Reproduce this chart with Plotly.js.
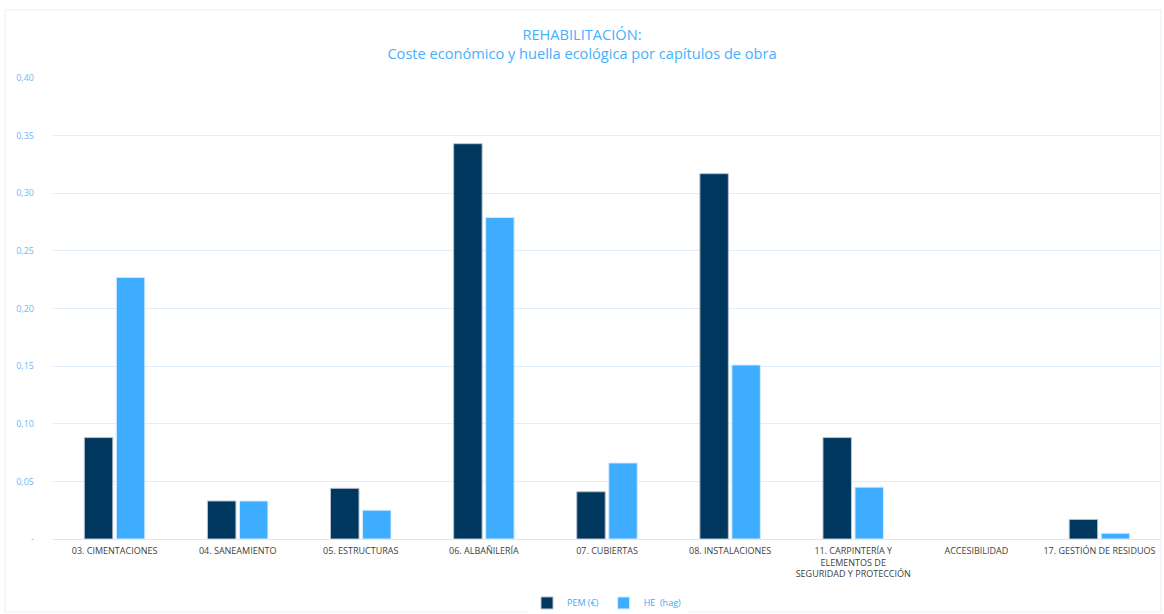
<!DOCTYPE html>
<html>
<head>
<meta charset="utf-8">
<script src="https://cdn.plot.ly/plotly-3.0.1.min.js"></script>
<style>html,body{margin:0;padding:0;background:#fff;}#chart{width:1164px;height:614px;}</style>
</head>
<body>
<div id="chart"></div>
<script>
const categories = [
  "03. CIMENTACIONES",
  "04. SANEAMIENTO",
  "05. ESTRUCTURAS",
  "06. ALBAÑILERÍA",
  "07. CUBIERTAS",
  "08. INSTALACIONES",
  "11. CARPINTERÍA Y<br>ELEMENTOS DE<br>SEGURIDAD Y PROTECCIÓN",
  "ACCESIBILIDAD",
  "17. GESTIÓN DE RESIDUOS"
];
const pemValues = [0.088, 0.033, 0.044, 0.343, 0.041, 0.317, 0.088, 0, 0.017];
const heValues  = [0.227, 0.033, 0.025, 0.279, 0.066, 0.151, 0.045, 0, 0.005];
const seriesNames = ["PEM (€)", "HE  (hag)"];
const yTickVals = [0, 0.05, 0.10, 0.15, 0.20, 0.25, 0.30, 0.35, 0.40];
const yTickText = ["-", "0,05", "0,10", "0,15", "0,20", "0,25", "0,30", "0,35", "0,40"];

const font = "Open Sans, Liberation Sans, sans-serif";
const traces = [
  {type: "bar", name: seriesNames[0], x: categories, y: pemValues,
   marker: {color: "#00375f", line: {color: "#b9c3cf", width: pemValues.map(v => v > 0 ? 1 : 0)}}, hoverinfo: "y"},
  {type: "bar", name: seriesNames[1], x: categories, y: heValues,
   marker: {color: "#3fadff", line: {color: "#d6ebff", width: heValues.map(v => v > 0 ? 1 : 0)}}, hoverinfo: "y"}
];
const layout = {
  width: 1164, height: 614,
  margin: {l: 53, r: 3, t: 78, b: 75},
  paper_bgcolor: "#ffffff", plot_bgcolor: "#ffffff",
  title: {text: "REHABILITACIÓN:<br><span style='line-height:1.5'>Coste económico y huella ecológica por capítulos de obra</span>",
          font: {family: font, size: 14.6, color: "#45b0ff"}, x: 0.5, xanchor: "center", y: 0.935, yanchor: "top"},
  barmode: "group", bargap: 0.48, bargroupgap: 0.11,
  xaxis: {tickfont: {family: font, size: 9, color: "#404040"}, showgrid: false, zeroline: false,
          showline: true, linecolor: "#dbe9f7", linewidth: 1, ticks: "", automargin: false, ticklabelstandoff: 3},
  yaxis: {range: [0, 0.4], tickvals: yTickVals, ticktext: yTickText, tickfont: {family: font, size: 9, color: "#6fb8f5"},
          showgrid: true, gridcolor: "#dfedfb", gridwidth: 1, zeroline: false, ticks: "", ticklen: 0,
          ticklabelstandoff: 18, automargin: false, fixedrange: true},
  legend: {orientation: "h", x: 0.5, xanchor: "center", yref: "container", y: 0.018, yanchor: "middle",
           font: {family: font, size: 9, color: "#3fa6f5"}, itemwidth: 30, traceorder: "normal"},
  shapes: [{type: "rect", xref: "paper", yref: "paper",
            x0: (5 - 53) / 1108, x1: (1161 - 53) / 1108, y0: (539 - 612) / 461, y1: (539 - 10) / 461,
            line: {color: "#e3effb", width: 1}, fillcolor: "rgba(0,0,0,0)", layer: "below"}],
  showlegend: true
};
Plotly.newPlot("chart", traces, layout, {displayModeBar: false, staticPlot: true});
</script>
</body>
</html>
